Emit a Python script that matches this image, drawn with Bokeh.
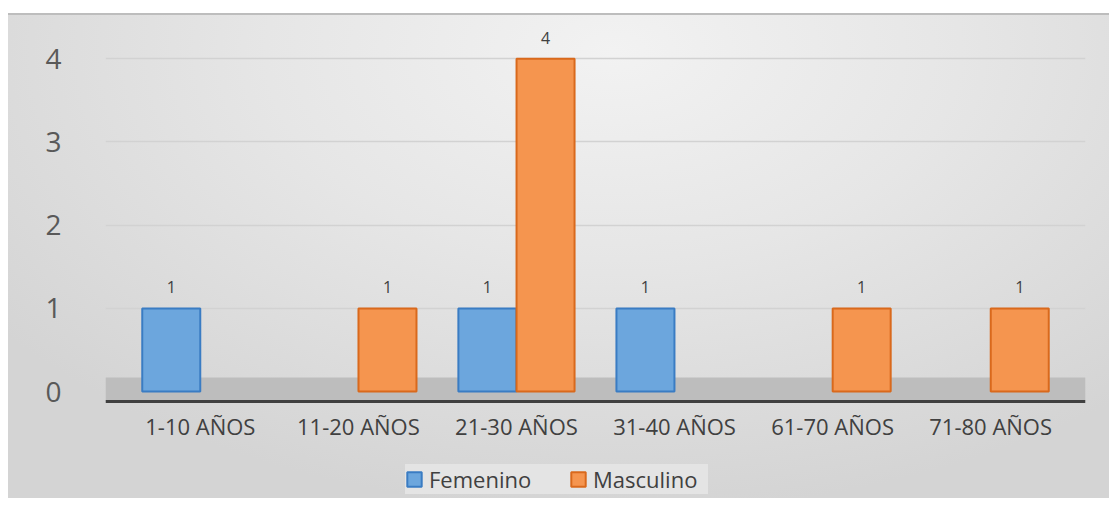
from bokeh.plotting import figure
from bokeh.models import (ColumnDataSource, Range1d, FixedTicker, Legend, LegendItem,
                          LabelSet, BoxAnnotation, Spacer)
from bokeh.layouts import column, row
from bokeh.transform import dodge
from bokeh.core.properties import value
from bokeh.embed import file_html
from bokeh.resources import INLINE

categories = ["1-10 AÑOS", "11-20 AÑOS", "21-30 AÑOS", "31-40 AÑOS", "61-70 AÑOS", "71-80 AÑOS"]
femenino = [1, 0, 1, 1, 0, 0]
masculino = [0, 1, 4, 0, 1, 1]
y_ticks = [0, 1, 2, 3, 4]

FONT = "Open Sans"
BG = "#e3e3e3"
AXIS_Y = -0.12

def series_source(values):
    xs = [i for i, v in enumerate(values) if v > 0]
    ys = [v for v in values if v > 0]
    return ColumnDataSource(dict(x=xs, y=ys, label=[str(v) for v in ys]))

src_f = series_source(femenino)
src_m = series_source(masculino)

p = figure(width=1101, height=485, output_backend="svg", toolbar_location=None,
           x_range=Range1d(-0.6, 5.6), y_range=Range1d(-1.285, 4.4),
           min_border_left=97, min_border_right=24, min_border_top=12, min_border_bottom=0)
p.background_fill_color = BG
p.background_fill_alpha = 0
p.border_fill_color = BG
p.border_fill_alpha = 0
p.outline_line_color = None
p.styles = {
    "background": "radial-gradient(ellipse 70% 95% at 55% 8%, #f2f2f2 0%, #e6e6e6 45%, #d4d4d4 100%)",
    "box-shadow": "inset 0 2px 0 #bdbdbd",
}

# floor
floor = BoxAnnotation(bottom=AXIS_Y, top=0.17, fill_color="#bdbdbd", fill_alpha=1.0,
                      line_color=None, level="underlay")
p.add_layout(floor)

bw = 0.367
off = 0.184
rf = p.vbar(x=dodge("x", -off, range=p.x_range), top="y", bottom=0, width=bw, source=src_f,
            fill_color="#6ca6dd", line_color="#3a7cc3", line_width=2)
rm = p.vbar(x=dodge("x", off, range=p.x_range), top="y", bottom=0, width=bw, source=src_m,
            fill_color="#f5954f", line_color="#d9691c", line_width=2)

for src, dx in ((src_f, -off), (src_m, off)):
    lbl = LabelSet(x=dodge("x", dx, range=p.x_range), y="y", text="label", source=src,
                   y_offset=21, text_align="center", text_baseline="middle",
                   text_font=value(FONT), text_font_size="16px", text_color="#404040")
    p.add_layout(lbl)

# axes
p.xaxis.fixed_location = AXIS_Y
p.xaxis.ticker = FixedTicker(ticks=list(range(len(categories))))
p.xaxis.major_label_overrides = {i: c for i, c in enumerate(categories)}
p.xaxis.axis_line_color = "#404040"
p.xaxis.axis_line_width = 3
p.xaxis.major_tick_line_color = None
p.xaxis.minor_tick_line_color = None
p.xaxis.major_label_text_font = FONT
p.xaxis.major_label_text_font_size = "22px"
p.xaxis.major_label_text_color = "#404040"
p.xaxis.major_label_standoff = 3

p.yaxis.ticker = FixedTicker(ticks=y_ticks)
p.yaxis.axis_line_color = None
p.yaxis.major_tick_line_color = None
p.yaxis.minor_tick_line_color = None
p.yaxis.major_label_text_font = FONT
p.yaxis.major_label_text_font_size = "28px"
p.yaxis.major_label_text_color = "#595959"
p.yaxis.major_label_standoff = 38

p.xgrid.grid_line_color = None
p.ygrid.ticker = FixedTicker(ticks=y_ticks[1:])
p.ygrid.grid_line_color = "#d2d2d2"
p.ygrid.grid_line_width = 1.5

legend = Legend(items=[LegendItem(label="Femenino", renderers=[rf]),
                       LegendItem(label="Masculino", renderers=[rm])],
                orientation="horizontal", location=(300, 4),
                background_fill_color="#e4e4e4", background_fill_alpha=1.0,
                border_line_color=None,
                label_text_font=FONT, label_text_font_size="22px", label_text_color="#404040",
                glyph_width=18, glyph_height=18, label_standoff=6, label_width=115,
                spacing=25, padding=14, margin=0)
p.add_layout(legend, "center")

layout = row(Spacer(width=8, height=10),
             column(Spacer(height=13, width=1101), p, spacing=0),
             spacing=0)
open("out.html", "w").write(file_html(layout, INLINE))
